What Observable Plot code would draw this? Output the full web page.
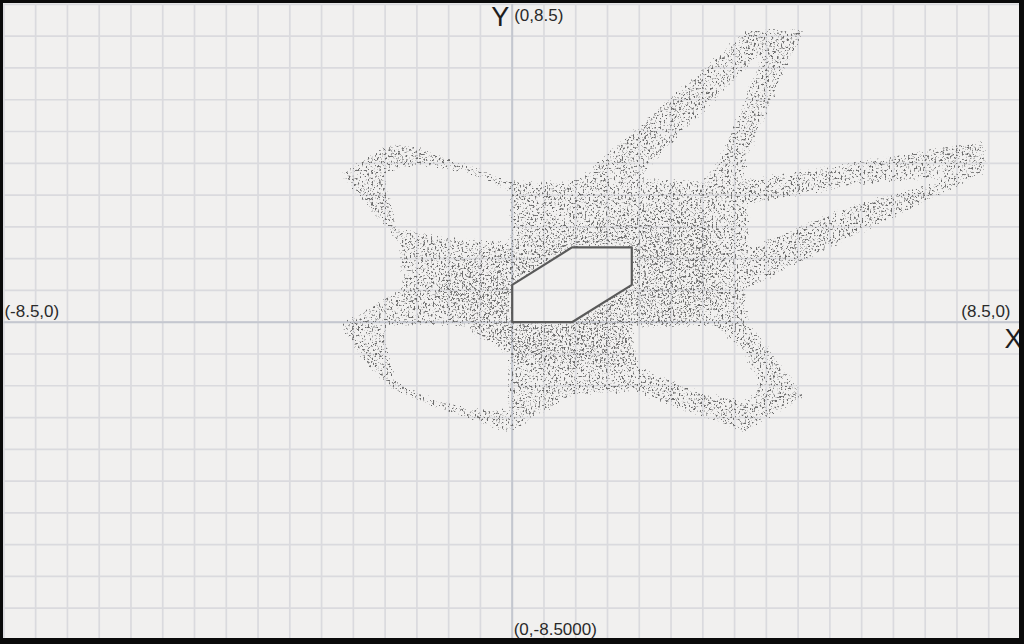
<!DOCTYPE html>
<html><head><meta charset="utf-8">
<script src="https://cdn.jsdelivr.net/npm/d3@7"></script>
<script src="https://cdn.jsdelivr.net/npm/@observablehq/plot@0.6"></script>
<style>
html,body{margin:0;padding:0;background:#0a0a0a;}
#wrap{position:relative;width:1024px;height:644px;overflow:hidden;}
#chart svg{display:block;}
#frame{position:absolute;left:0;top:0;width:1024px;height:644px;box-sizing:border-box;border-style:solid;border-color:#0a0a0a;border-width:3px 5px 6px 3px;pointer-events:none;}
</style></head><body>
<div id="wrap"><div id="chart"></div><div id="frame"></div></div>
<script>
// ---- axes / grid ----
const xDomain = [-8.5, 8.5];
const yDomain = [-8.5, 8.5];
const gridColumns = 32;
const gridRows = 20;

// ---- tick / axis labels ----
const labelTop = "(0,8.5)";
const labelBottom = "(0,-8.5000)";
const labelLeft = "(-8.5,0)";
const labelRight = "(8.5,0)";
const axisNameX = "X";
const axisNameY = "Y";

// ---- shapes (data units) ----
const hexagon = [[0,0],[1,0],[2,1],[2,2],[1,2],[0,1]];

const outerBoundary = [
  [3.92,7.88],[4.92,7.86],[3.93,4.32],[3.95,3.87],[7.92,4.91],[7.95,3.98],
  [3.93,0.85],[3.98,0],[4.94,-1.99],[3.9,-3.0],[2.03,-1.91],[0.98,-2.01],
  [-0.03,-3.0],[-1.37,-2.28],[-2.04,-1.83],[-2.54,-1.02],[-2.92,-0.03],
  [-1.87,0.93],[-1.92,2.1],[-2.92,3.98],[-2.07,4.83],[-1.58,4.73],
  [-0.08,3.87],[0.47,3.79],[1.08,3.84]
];
const holeUpperLeft = [[-2.12,3.95],[-1.59,4.16],[-0.70,3.92],[-0.06,3.47],[-0.06,2.19],[-0.95,2.29],[-1.92,2.53],[-2.0,3.25]];
const holeLowerLeft = [[-2.09,-0.14],[-0.83,-0.14],[-0.1,-0.89],[-0.1,-2.31],[-0.70,-2.25],[-1.40,-1.96],[-1.90,-1.56],[-2.04,-0.89]];
const holeUpperArm = [[4.16,7.13],[3.42,4.32],[3.15,3.84],[2.18,3.90]];
const holeRightArm = [[3.98,3.12],[5.66,3.6],[7.25,3.84],[5.66,3.2],[3.98,2.04]];
const holeLowerRight = [[2.03,-0.14],[3.35,-0.14],[3.82,-0.76],[4.1,-1.69],[3.9,-2.09],[3.15,-1.83],[2.15,-1.18],[2.03,-0.62]];
const denseCore = [
  [-1.53,1.92],[0.14,2.32],[1.48,3.25],[3.15,3.52],[3.73,3.26],[3.73,0.31],
  [2.98,-0.49],[1.98,-1.56],[0.14,-1.69],[-0.70,-0.49],[-1.53,0.18]
];

// ---- build tables ----
const ringsToRows = (rings) => rings.flatMap(r => [...r.map(([x,y]) => ({x, y})), {x: NaN, y: NaN}]);
const regionRows = ringsToRows([outerBoundary, holeUpperLeft, holeLowerLeft, holeUpperArm, holeRightArm, holeLowerRight, hexagon]);
const coreRows = ringsToRows([denseCore]);
const hexRows = [...hexagon, hexagon[0]].map(([x,y]) => ({x, y}));

const gridX = d3.range(gridColumns + 1).map(i => xDomain[0] + i * (xDomain[1]-xDomain[0]) / gridColumns);
const gridY = d3.range(gridRows + 1).map(i => yDomain[0] + i * (yDomain[1]-yDomain[0]) / gridRows);

const small = {fontSize: 17, fontFamily: "'Liberation Sans', Arial, sans-serif", fill: "#2a2a2a", lineAnchor: "bottom"};
const big = {fontSize: 27, fontFamily: "'Liberation Sans Narrow', 'Liberation Sans', Arial, sans-serif", fill: "#1e1e1e", lineAnchor: "bottom"};

const plot = Plot.plot({
  width: 1024, height: 644,
  marginLeft: 3.4, marginRight: 4, marginTop: 3.9, marginBottom: 4.5,
  x: {domain: xDomain, axis: null},
  y: {domain: yDomain, axis: null},
  style: {background: "#f1f0ef", overflow: "visible"},
  marks: [
    Plot.ruleX(gridX, {stroke: "#dadade", strokeWidth: 1.7}),
    Plot.ruleY(gridY, {stroke: "#dadade", strokeWidth: 1.7}),
    Plot.ruleX([0], {stroke: "#c4c7cf", strokeWidth: 2}),
    Plot.ruleY([0], {stroke: "#c4c7cf", strokeWidth: 2}),
    Plot.line(regionRows, {x: "x", y: "y", fill: "#555", stroke: "none", ariaDescription: "stipple-region"}),
    Plot.line(coreRows, {x: "x", y: "y", fill: "#555", stroke: "none", ariaDescription: "stipple-core"}),
    Plot.line(hexRows, {x: "x", y: "y", stroke: "#5a5a5a", strokeWidth: 2.2, ariaDescription: "hexagon"}),
    Plot.text([labelTop], {x: () => 0, y: () => yDomain[1], text: d => d, textAnchor: "start", dx: 2, dy: 16.5, ...small}),
    Plot.text([axisNameY], {x: () => 0, y: () => yDomain[1], text: d => d, textAnchor: "end", dx: -3, dy: 21.5, ...big}),
    Plot.text([labelRight], {x: () => xDomain[1], y: () => 0, text: d => d, textAnchor: "end", dx: -10, dy: -5, ...small}),
    Plot.text([axisNameX], {x: () => xDomain[1], y: () => 0, text: d => d, textAnchor: "start", dx: -16, dy: 25.5, ...big}),
    Plot.text([labelLeft], {x: () => xDomain[0], y: () => 0, text: d => d, textAnchor: "start", dx: 0.5, dy: -5, ...small}),
    Plot.text([labelBottom], {x: () => 0, y: () => yDomain[0], text: d => d, textAnchor: "start", dx: 1.5, dy: -5, ...small})
  ]
});

// ---- stipple texture (pure styling: SVG noise filter) ----
const svg = d3.select(plot);
const defs = svg.insert("defs", ":first-child");
function stipple(id, seed, freq, blur, k2, k3, k4, gray) {
  const f = defs.append("filter").attr("id", id)
    .attr("filterUnits", "userSpaceOnUse").attr("x", 0).attr("y", 0)
    .attr("width", 1024).attr("height", 644)
    .attr("color-interpolation-filters", "sRGB");
  f.append("feGaussianBlur").attr("in", "SourceAlpha").attr("stdDeviation", blur).attr("result", "b");
  f.append("feTurbulence").attr("type", "fractalNoise").attr("baseFrequency", freq)
    .attr("numOctaves", 2).attr("seed", seed).attr("result", "n");
  f.append("feColorMatrix").attr("in", "n").attr("type", "matrix")
    .attr("values", "0 0 0 0 0  0 0 0 0 0  0 0 0 0 0  1 0 0 0 0").attr("result", "na");
  f.append("feComposite").attr("in", "na").attr("in2", "b").attr("operator", "arithmetic")
    .attr("k1", 0).attr("k2", k2).attr("k3", k3).attr("k4", k4).attr("result", "m");
  f.append("feColorMatrix").attr("in", "m").attr("type", "matrix")
    .attr("values", `0 0 0 0 ${gray}  0 0 0 0 ${gray}  0 0 0 0 ${gray}  0 0 0 1 0`);
}
stipple("st-region", 4, "0.52 0.49", 2.2, 7, 3.5, -7.38, 0.42);
stipple("st-core", 11, "0.55 0.51", 14, 7, 3.5, -7.75, 0.42);

function markGroup(desc, nth) {
  let g = svg.select(`g[aria-description="${desc}"]`);
  if (g.empty()) g = d3.select(svg.selectAll('g[aria-label="line"]').nodes()[nth]);
  return g;
}
const regionPath = markGroup("stipple-region", 0).select("path");
regionPath.attr("fill-rule", "evenodd").attr("filter", "url(#st-region)");
defs.append("clipPath").attr("id", "regionClip")
  .append("path").attr("d", regionPath.attr("d")).attr("clip-rule", "evenodd")
  .attr("transform", regionPath.attr("transform"));
markGroup("stipple-core", 1).selectAll("path")
  .attr("filter", "url(#st-core)").attr("clip-path", "url(#regionClip)");

document.getElementById("chart").appendChild(plot);
</script>
</body></html>
